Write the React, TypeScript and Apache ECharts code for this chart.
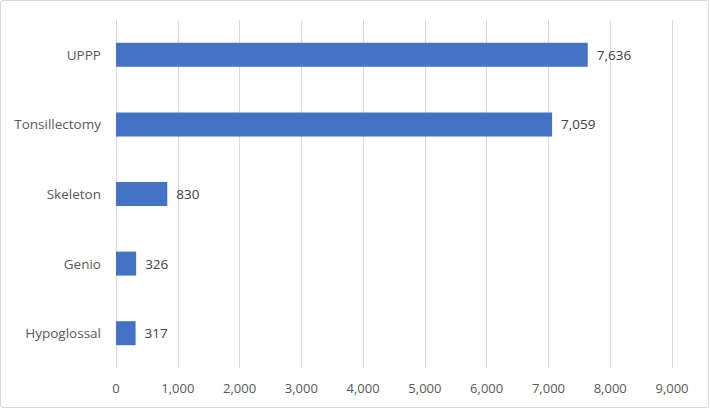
import React, { useEffect, useRef } from "react";
import * as echarts from "echarts";

const categories = ["Hypoglossal", "Genio", "Skeleton", "Tonsillectomy", "UPPP"];
const values = [317, 326, 830, 7059, 7636];

export default function App() {
  const ref = useRef<HTMLDivElement>(null);
  useEffect(() => {
    document.body.style.margin = "0";
    const chart = echarts.init(ref.current!, null, { renderer: "svg" });
    const font = "'Open Sans', 'Noto Sans', sans-serif";
    chart.setOption({
      animation: false,
      backgroundColor: "#ffffff",
      graphic: [
        {
          type: "rect",
          shape: { x: 0.5, y: 0.5, width: 708, height: 407, r: 2 },
          style: { fill: "none", stroke: "#d9d9d9", lineWidth: 1 },
          silent: true,
        },
      ],
      grid: { left: 116, right: 38, top: 20, bottom: 41, containLabel: false },
      xAxis: {
        type: "value",
        min: 0,
        max: 9000,
        interval: 1000,
        axisLine: { show: false },
        axisTick: { show: false },
        splitLine: { show: true, lineStyle: { color: "#d9d9d9", width: 1 } },
        axisLabel: {
          color: "#595959",
          fontSize: 13,
          fontFamily: font,
          margin: 13,
          formatter: (v: number) => v.toLocaleString("en-US"),
        },
      },
      yAxis: {
        type: "category",
        data: categories,
        axisLine: { show: false },
        axisTick: { show: false },
        axisLabel: { color: "#595959", fontSize: 13.5, fontFamily: font, margin: 15 },
      },
      series: [
        {
          type: "bar",
          data: values,
          barWidth: 24,
          itemStyle: { color: "#4472c4" },
          label: {
            show: true,
            position: "right",
            distance: 9,
            color: "#404040",
            fontSize: 13.5,
            fontFamily: font,
            formatter: (p: any) => Number(p.value).toLocaleString("en-US"),
          },
        },
      ],
    });
    return () => chart.dispose();
  }, []);
  return <div ref={ref} style={{ position: "absolute", left: 0, top: 0, width: 710, height: 409 }} />;
}
